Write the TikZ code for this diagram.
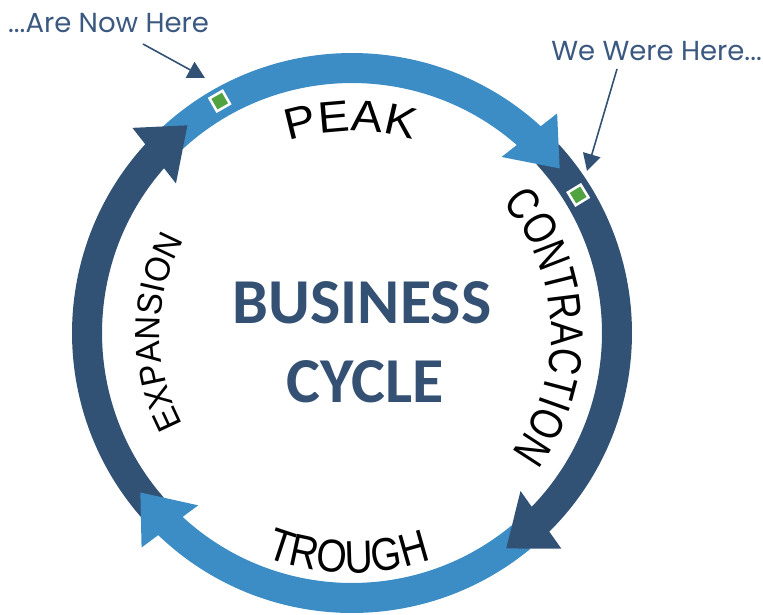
\documentclass[tikz,border=0pt]{standalone}
\usepackage{fontspec}
\newfontfamily\peakfont[FakeStretch=1.07]{Liberation Sans}
\newfontfamily\contrfont[FakeStretch=0.80]{Liberation Sans}
\newfontfamily\troughfont[FakeStretch=0.85]{Liberation Sans}
\newfontfamily\expfont[FakeStretch=0.94]{Liberation Sans}
\newfontfamily\titlefont{Carlito}
\newfontfamily\notefont{Poppins}
\usetikzlibrary{arrows.meta,decorations.text}
\definecolor{ringlight}{RGB}{60,141,197}
\definecolor{ringdark}{RGB}{50,82,117}
\definecolor{titleblue}{RGB}{52,81,115}
\definecolor{noteblue}{RGB}{58,88,128}
\definecolor{markgreen}{RGB}{80,163,64}

% one coloured stretch of the ring: colour, start angle, end angle
\newcommand\cycleband[3]{%
  \draw[band,#1] (#2:265) arc[start angle=#2, end angle=#3, radius=265];}
% arrow head closing a stretch: colour, angle of its back edge
\newcommand\cyclehead[2]{%
  \fill[#1] (#2+1.35:231) -- (#2-9.9:265) -- (#2-1.35:300.5) -- cycle;}

\begin{document}
\begin{tikzpicture}[x=1pt,y=1pt,
  band/.style={line width=30pt},
  marker/.style={rectangle, draw=white, line width=2.5pt, fill=markgreen,
    minimum size=15pt, inner sep=0pt},
  pointer/.style={draw=ringdark, line width=1.6pt,
    -{Triangle[length=17pt,width=18pt]}},
  arclabel/.style={decorate, decoration={text along path, text align=center}},
  note/.style={text=noteblue, font=\notefont\fontsize{27.5}{27.5}\selectfont, inner sep=0pt},
  title/.style={text=titleblue, font=\titlefont\bfseries\fontsize{64}{64}\selectfont, inner sep=0pt},
]
\useasboundingbox (-352,-281) rectangle (411,333);

% ring stretches
\cycleband{ringlight}{132.6}{47.3}
\cycleband{ringdark}{42.4}{-45.5}
\cycleband{ringlight}{309.6}{225.9}
\cycleband{ringdark}{221.1}{137.3}

% arrow heads on top
\cyclehead{ringlight}{48.3}
\cyclehead{ringdark}{-44.5}
\cyclehead{ringlight}{226.9}
\cyclehead{ringdark}{138.3}

% phase names along the ring
\path[arclabel, decoration={text={|\peakfont\fontsize{44}{44}\selectfont|PEAK}}]
  (150.4:202) arc[start angle=150.4, end angle=30.4, radius=202];
\path[arclabel, decoration={text={|\contrfont\fontsize{46}{46}\selectfont|CONTRACTION}}]
  (62:199) arc[start angle=62, end angle=-58, radius=199];
\path[arclabel, decoration={text={|\troughfont\fontsize{46}{46}\selectfont|TROUGH}}]
  (209:240) arc[start angle=209, end angle=329, radius=240];
\path[arclabel, decoration={text={|\expfont\fontsize{35}{35}\selectfont|EXPANSION}}]
  (239.7:192) arc[start angle=239.7, end angle=119.7, radius=192];

% centre title
\node[title, anchor=base] (business) at (10,10) {BUSINESS};
\node[title, anchor=base] (cycle) at (13,-69) {CYCLE};

% position markers
\node[marker, rotate=29.7] (now) at (119.7:267) {};
\node[marker, rotate=31.4] (were) at (31.4:265) {};

% callouts
\node[note, anchor=base west] (nowtext) at (-344,301) {...Are Now Here};
\node[note, anchor=base east] (weretext) at (410,273) {We Were Here...};
\coordinate (nowfrom) at (-209,289);
\coordinate (nowto) at (-147,255);
\coordinate (werefrom) at (265,264);
\coordinate (wereto) at (235,162);
\draw[pointer] (nowfrom) -- (nowto);
\draw[pointer] (werefrom) -- (wereto);
\end{tikzpicture}
\end{document}
